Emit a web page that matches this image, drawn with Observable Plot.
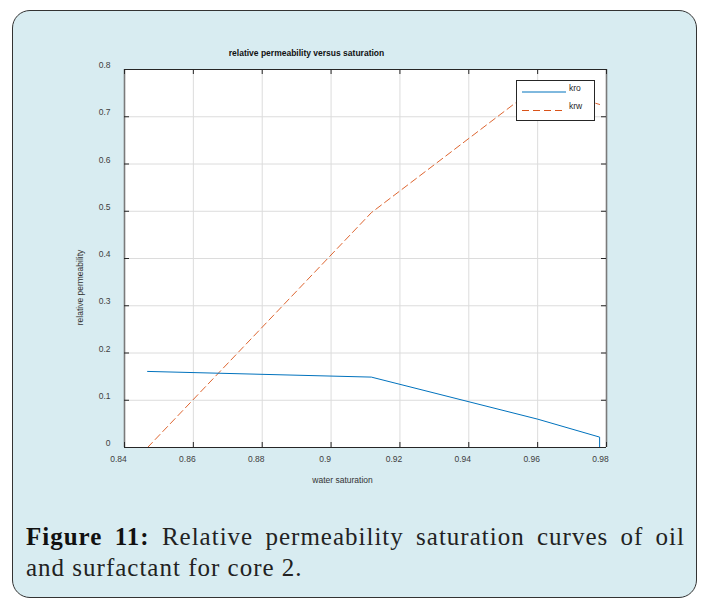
<!DOCTYPE html>
<html><head><meta charset="utf-8">
<script src="https://cdn.jsdelivr.net/npm/d3@7"></script>
<script src="https://cdn.jsdelivr.net/npm/@observablehq/plot@0.6"></script>
<style>
html,body{margin:0;padding:0;background:#fff;}
#page{position:relative;width:701px;height:600px;overflow:hidden;}
#card{position:absolute;left:12px;top:10px;width:683px;height:586px;border:1.5px solid #333;border-radius:18px;background:#d8ecf1;}
#chart{position:absolute;left:0;top:0;}
#chart svg{background:transparent;}
#legend{position:absolute;left:516px;top:80px;width:77px;height:39px;background:#fff;border:1px solid #262626;}
#caption{position:absolute;left:26px;top:521px;width:659px;font:25px/31px "Liberation Serif","Times New Roman",serif;color:#222;letter-spacing:1px;}
#caption .l1{text-align:justify;text-align-last:justify;white-space:nowrap;}
#caption .l2{text-align:left;}
</style></head>
<body><div id="page"><div id="card"></div><div id="chart"></div><div id="legend"></div><div id="caption"></div></div>
<script>
// ---- data ----
const swKro = [0.8467, 0.9117, 0.960, 0.978, 0.978];
const kro   = [0.161, 0.149, 0.060, 0.022, 0.0];
const swKrw = [0.8467, 0.9117, 0.960, 0.978];
const krw   = [0.0, 0.497, 0.765, 0.726];
const seriesNames = ["kro", "krw"];
const seriesColors = ["#0072BD", "#D95319"];
const xDomain = [0.84, 0.98];
const yDomain = [0, 0.8];
const xTicks = [0.84, 0.86, 0.88, 0.90, 0.92, 0.94, 0.96, 0.98];
const xTickLabels = ["0.84", "0.86", "0.88", "0.9", "0.92", "0.94", "0.96", "0.98"];
const yTicks = [0, 0.1, 0.2, 0.3, 0.4, 0.5, 0.6, 0.7, 0.8];
const yTickLabels = ["0", "0.1", "0.2", "0.3", "0.4", "0.5", "0.6", "0.7", "0.8"];
const titleText = "relative permeability versus saturation";
const xLabelText = "water saturation";
const yLabelText = "relative permeability";
const captionLabel = "Figure 11:";
const captionLine1 = "Relative permeability saturation curves of oil";
const captionLine2 = "and surfactant for core 2.";

const kroData = swKro.map((x, i) => ({x, y: kro[i]}));
const krwData = swKrw.map((x, i) => ({x, y: krw[i]}));

const W = 701, H = 500;
const mL = 124, mR = 95, mT = 69, mB = 53;
const innerW = W - mL - mR, innerH = H - mT - mB;
const font = '"Liberation Sans", Arial, Helvetica, sans-serif';
const tickLen = 5;

const plot = Plot.plot({
  width: W, height: H,
  marginLeft: mL, marginRight: mR, marginTop: mT, marginBottom: mB,
  style: {fontFamily: font, background: "transparent", overflow: "visible"},
  x: {domain: xDomain, axis: null},
  y: {domain: yDomain, axis: null},
  marks: [
    Plot.frame({fill: "white", stroke: "none"}),
    Plot.gridX(xTicks, {stroke: "#dcdcdc", strokeOpacity: 1, strokeWidth: 1}),
    Plot.gridY(yTicks, {stroke: "#dcdcdc", strokeOpacity: 1, strokeWidth: 1}),
    Plot.line(krwData, {x: "x", y: "y", stroke: seriesColors[1], strokeWidth: 0.9, strokeDasharray: "7,4"}),
    Plot.line(kroData, {x: "x", y: "y", stroke: seriesColors[0], strokeWidth: 1}),
    // box edges
    Plot.ruleX([xDomain[0], xDomain[1]], {stroke: "#7a7a7a", strokeWidth: 1.6}),
    Plot.ruleY([yDomain[0], yDomain[1]], {stroke: "#262626", strokeWidth: 1.2}),
    // inward ticks
    Plot.tickX(xTicks, {x: d => d, insetTop: innerH - tickLen, stroke: "#262626"}),
    Plot.tickX(xTicks, {x: d => d, insetBottom: innerH - tickLen, stroke: "#262626"}),
    Plot.tickY(yTicks, {y: d => d, insetRight: innerW - tickLen, stroke: "#262626"}),
    Plot.tickY(yTicks, {y: d => d, insetLeft: innerW - tickLen, stroke: "#262626"}),
    // tick labels
    Plot.text(xTicks, {x: d => d, frameAnchor: "bottom", lineAnchor: "middle", dy: 12, dx: -6, text: (d, i) => xTickLabels[i], fontSize: 8.5, fill: "#404040"}),
    Plot.text(yTicks, {y: d => d, frameAnchor: "left", lineAnchor: "middle", dx: -14, dy: -4, textAnchor: "end", text: (d, i) => yTickLabels[i], fontSize: 8.5, fill: "#404040"}),
    // title and axis labels
    Plot.text([titleText], {frameAnchor: "top", lineAnchor: "middle", textAnchor: "middle", dy: -16, dx: -59, text: d => d, fontSize: 8.5, fontWeight: "bold", fill: "#111"}),
    Plot.text([xLabelText], {frameAnchor: "bottom", lineAnchor: "middle", textAnchor: "middle", dy: 33, dx: -23, text: d => d, fontSize: 8.5, fill: "#333"}),
    Plot.text([yLabelText], {frameAnchor: "left", lineAnchor: "middle", textAnchor: "middle", dx: -44, dy: 29, rotate: -90, text: d => d, fontSize: 8.5, fill: "#333"})
  ]
});
document.getElementById("chart").appendChild(plot);

// legend
const lg = d3.select("#legend").append("svg").attr("width", 77).attr("height", 39)
  .style("display", "block");
seriesNames.forEach((name, i) => {
  const yLine = 11 + i * 18.5;
  lg.append("line").attr("x1", 5).attr("x2", 49).attr("y1", yLine).attr("y2", yLine)
    .attr("stroke", seriesColors[i]).attr("stroke-width", 1)
    .attr("stroke-dasharray", i === 1 ? "7,4" : null);
  lg.append("text").attr("x", 52).attr("y", yLine - 1.5).text(name)
    .attr("font-family", font).attr("font-size", 8.5).attr("fill", "#262626");
});

// caption
const cap = document.getElementById("caption");
const l1 = document.createElement("div");
l1.className = "l1";
const b = document.createElement("b");
b.style.color = "#111";
b.textContent = captionLabel;
l1.appendChild(b);
l1.appendChild(document.createTextNode(" " + captionLine1));
const l2 = document.createElement("div");
l2.className = "l2";
l2.textContent = captionLine2;
cap.appendChild(l1);
cap.appendChild(l2);
</script>
</body></html>
